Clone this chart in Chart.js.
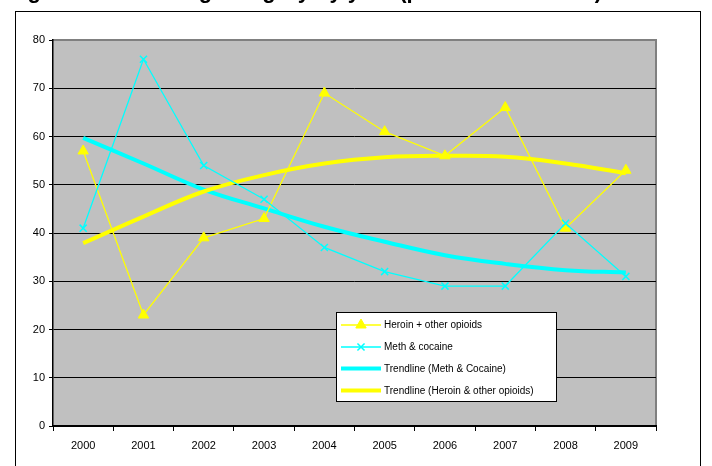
<!DOCTYPE html>
<html>
<head>
<meta charset="utf-8">
<script src="https://cdn.jsdelivr.net/npm/chart.js@4.4.1/dist/chart.umd.min.js"></script>
<style>
  html, body { margin: 0; padding: 0; background: #fff; overflow: hidden; }
  #wrap { position: relative; width: 712px; height: 466px; }
  #frame {
    position: absolute; left: 15px; top: 11px; width: 686px; height: 470px;
    border: 1.5px solid #000; box-sizing: border-box;
  }
  #graph { position: absolute; left: 0; top: 0; }
</style>
</head>
<body>
<div id="wrap">
  <div id="frame"></div>
  <canvas id="graph" width="712" height="466"></canvas>
</div>
<script>
var titulo = 'Figure 6: Main drug category by year (per cent of clients)';
var anos = ['2000','2001','2002','2003','2004','2005','2006','2007','2008','2009'];
var heroinData = [57, 23, 39, 43, 69, 61, 56, 66, 41, 53];
var methData = [41, 76, 54, 47, 37, 32, 29, 29, 42, 31];
var methTrend = [59.7, 54.4, 49.0, 45.1, 41.3, 38.2, 35.4, 33.6, 32.3, 31.8];
var heroinTrend = [37.9, 43.4, 48.6, 52.0, 54.4, 55.7, 56.0, 55.8, 54.4, 52.4];
var nomes = ['Heroin + other opioids', 'Meth & cocaine', 'Trendline (Meth & Cocaine)', 'Trendline (Heroin & other opioids)'];

const amarelo = '#FFFF00';
const ciano = '#00FFFF';

// fundo cinza da area do grafico + borda
const plotBg = {
  id: 'plotBg',
  beforeDraw(chart) {
    const a = chart.chartArea, ctx = chart.ctx;
    ctx.save();
    ctx.fillStyle = '#C0C0C0';
    ctx.fillRect(a.left, a.top, a.right - a.left, a.bottom - a.top);
    ctx.strokeStyle = '#808080';
    ctx.lineWidth = 2;
    ctx.beginPath();
    ctx.moveTo(a.left, a.top);
    ctx.lineTo(a.right, a.top);
    ctx.lineTo(a.right, a.bottom);
    ctx.stroke();
    // titulo cortado no topo da pagina
    ctx.fillStyle = '#000';
    ctx.font = 'bold 22px "Liberation Sans", Arial, sans-serif';
    ctx.textBaseline = 'alphabetic';
    ctx.fillText(titulo, 8, -2);
    ctx.restore();
  }
};

// legenda desenhada na mao (linha + marcador)
const legendaBox = {
  id: 'legendaBox',
  afterDraw(chart) {
    const ctx = chart.ctx;
    const x = 336, y = 312, w = 220, h = 89;
    ctx.save();
    ctx.fillStyle = '#fff';
    ctx.fillRect(x, y, w, h);
    ctx.strokeStyle = '#000';
    ctx.lineWidth = 1;
    ctx.strokeRect(x + 0.5, y + 0.5, w, h);
    ctx.font = '10px "Liberation Sans", Arial, sans-serif';
    ctx.textBaseline = 'middle';
    const rows = [325, 347, 368.5, 390.5];
    chart.data.datasets.forEach(function (ds, i) {
      const ry = rows[i];
      ctx.strokeStyle = ds.borderColor;
      ctx.lineWidth = ds.borderWidth;
      ctx.beginPath();
      ctx.moveTo(341, ry);
      ctx.lineTo(381, ry);
      ctx.stroke();
      if (ds.pointRadius > 0) {
        ctx.fillStyle = ds.pointBackgroundColor;
        ctx.strokeStyle = ds.pointBorderColor;
        ctx.lineWidth = ds.pointBorderWidth;
        Chart.helpers.drawPoint(ctx, {
          pointStyle: ds.pointStyle, radius: ds.pointRadius, rotation: 0,
          borderWidth: ds.pointBorderWidth
        }, 361, ry);
      }
      ctx.fillStyle = '#000';
      ctx.fillText(ds.label, 384, ry + 0.5);
    });
    ctx.restore();
  }
};

const dados = {
  labels: anos,
  datasets: [
    {
      label: nomes[0],
      data: heroinData,
      borderColor: amarelo,
      backgroundColor: amarelo,
      pointBackgroundColor: amarelo,
      pointBorderColor: amarelo,
      pointStyle: 'triangle',
      pointRadius: 6,
      pointBorderWidth: 1,
      borderWidth: 1.3,
      tension: 0,
      order: 2
    },
    {
      label: nomes[1],
      data: methData,
      borderColor: ciano,
      backgroundColor: ciano,
      pointBackgroundColor: ciano,
      pointBorderColor: ciano,
      pointStyle: 'crossRot',
      pointRadius: 5,
      pointBorderWidth: 1.5,
      borderWidth: 1.3,
      tension: 0,
      order: 1
    },
    {
      label: nomes[2],
      data: methTrend,
      borderColor: ciano,
      backgroundColor: ciano,
      pointRadius: 0,
      borderWidth: 4,
      tension: 0.4,
      order: 4
    },
    {
      label: nomes[3],
      data: heroinTrend,
      borderColor: amarelo,
      backgroundColor: amarelo,
      pointRadius: 0,
      borderWidth: 4,
      tension: 0.4,
      order: 3
    }
  ]
};

const config = {
  type: 'line',
  data: dados,
  options: {
    responsive: false,
    animation: false,
    layout: { padding: { left: 0, top: 40, right: 56, bottom: 0 } },
    plugins: {
      legend: { display: false },
      tooltip: { enabled: false }
    },
    scales: {
      x: {
        type: 'category',
        offset: true,
        grid: {
          display: true,
          offset: true,
          drawOnChartArea: false,
          drawTicks: true,
          tickLength: 5,
          color: '#000',
          lineWidth: 1
        },
        border: { color: '#000', width: 2 },
        ticks: {
          color: '#000',
          padding: 8,
          maxRotation: 0,
          font: { family: '"Liberation Sans", Arial, sans-serif', size: 11 }
        },
        afterFit: function (scale) { scale.height = 40; }
      },
      y: {
        min: 0,
        max: 80,
        ticks: {
          stepSize: 10,
          color: '#000',
          padding: 4,
          font: { family: '"Liberation Sans", Arial, sans-serif', size: 11 }
        },
        grid: {
          color: function (c) { return c.tick && c.tick.value === 80 ? 'rgba(0,0,0,0)' : '#000'; },
          tickColor: '#000',
          lineWidth: 1,
          tickLength: 4
        },
        border: { color: '#000', width: 1.5 },
        afterFit: function (scale) { scale.width = 53; }
      }
    }
  },
  plugins: [plotBg, legendaBox]
};

var grafico = new Chart(document.getElementById('graph'), config);
</script>
</body>
</html>
